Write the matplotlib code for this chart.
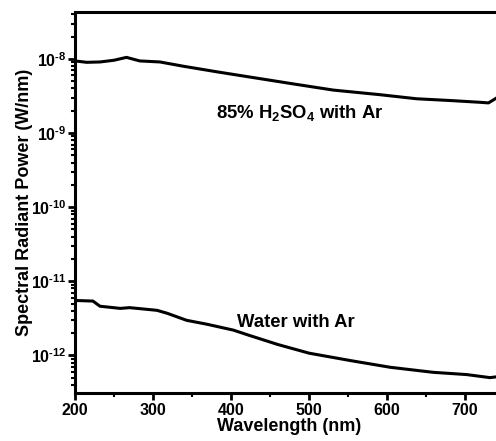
import numpy as np
import matplotlib.pyplot as plt

plt.rcParams['font.family'] = 'Liberation Sans'
plt.rcParams['font.weight'] = 'bold'
plt.rcParams['axes.labelweight'] = 'bold'
plt.rcParams['mathtext.fontset'] = 'custom'
plt.rcParams['mathtext.rm'] = 'Liberation Sans:bold'
plt.rcParams['mathtext.bf'] = 'Liberation Sans:bold'
plt.rcParams['mathtext.default'] = 'bf'

# 85% H2SO4 with Ar
wl_acid = [200, 215, 232, 250, 266, 283, 309, 338, 382, 424, 480, 531, 590, 638, 680, 719, 730, 741]
p_acid = [9.4e-9, 9.0e-9, 9.1e-9, 9.6e-9, 1.05e-8, 9.4e-9, 9.1e-9, 8.0e-9, 6.7e-9, 5.7e-9,
          4.6e-9, 3.8e-9, 3.3e-9, 2.9e-9, 2.75e-9, 2.6e-9, 2.55e-9, 3.0e-9]

# Water with Ar
wl_water = [200, 223, 232, 258, 270, 305, 318, 343, 369, 403, 424, 460, 500, 553, 604, 659, 702, 732, 745]
p_water = [5.5e-12, 5.4e-12, 4.6e-12, 4.3e-12, 4.4e-12, 4.05e-12, 3.7e-12, 2.97e-12, 2.63e-12,
           2.19e-12, 1.85e-12, 1.4e-12, 1.07e-12, 8.5e-13, 6.9e-13, 5.9e-13, 5.5e-13, 5.0e-13, 5.2e-13]

xticks = [200, 300, 400, 500, 600, 700]
yticks = [1e-12, 1e-11, 1e-10, 1e-9, 1e-8]
ytick_labels = ['$10^{\u2010%d}$' % k for k in [12, 11, 10, 9, 8]]

fig = plt.figure(figsize=(4.96, 4.41), dpi=100)
ax = fig.add_axes([0.1512, 0.1088, 0.865, 0.864])

ax.plot(wl_acid, p_acid, 'k-', lw=2.2)
ax.plot(wl_water, p_water, 'k-', lw=2.2)

ax.set_yscale('log')
ax.set_xlim(200, 750)
ax.set_ylim(3.1e-13, 4.3e-8)
ax.set_xticks(xticks)
ax.set_xticks([250, 350, 450, 550, 650, 750], minor=True)
ax.set_yticks(yticks, ytick_labels)

ax.text(488, 1.87e-9, r'85% H$_2$SO$_4$ with Ar', ha='center', va='center', fontsize=13.3)
ax.text(483, 2.8e-12, 'Water with Ar', ha='center', va='center', fontsize=13.3)

ax.set_xlabel('Wavelength (nm)', fontsize=13, labelpad=0)
ax.set_ylabel('Spectral Radiant Power (W/nm)', fontsize=13)
ax.yaxis.set_label_coords(-0.097, 0.5)

for s in ['left', 'bottom', 'top']:
    ax.spines[s].set_linewidth(2.2)
ax.spines['right'].set_visible(False)
ax.tick_params(which='major', length=5, width=2, labelsize=11.5, pad=2)
ax.tick_params(axis='y', which='major', labelsize=11.5, pad=1)
ax.tick_params(which='minor', length=3, width=1.5)

fig.savefig('out.png', dpi=100)
